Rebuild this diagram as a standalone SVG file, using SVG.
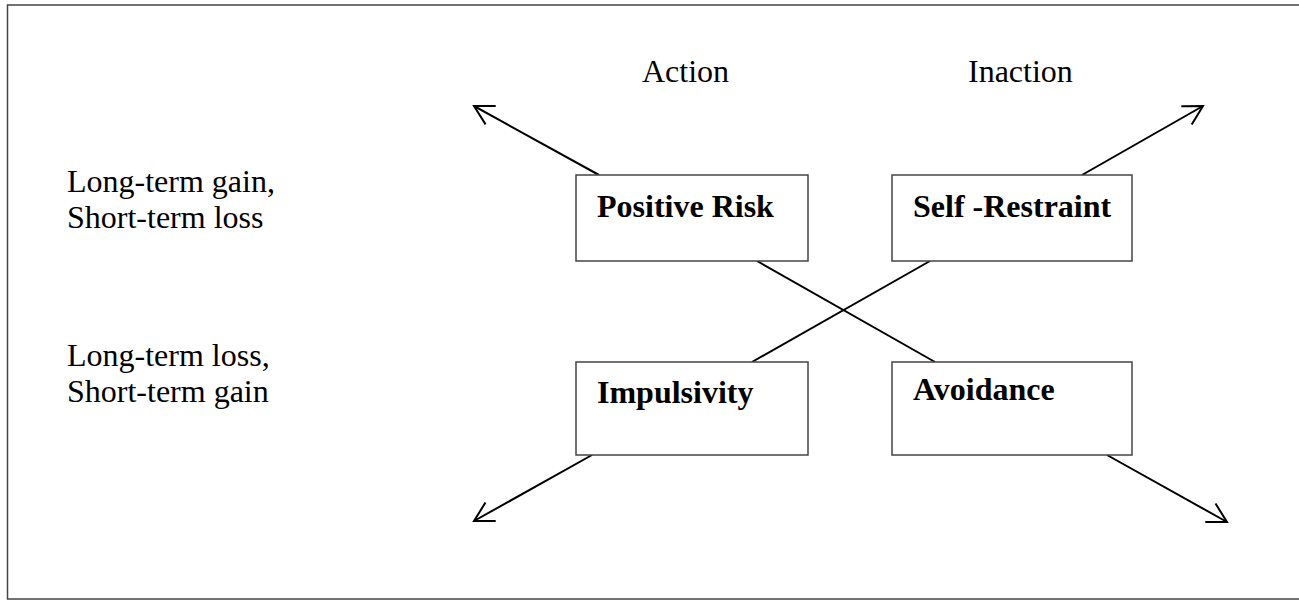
<svg xmlns="http://www.w3.org/2000/svg" width="1299" height="601" viewBox="0 0 1299 601">
<style>
.frame{fill:none;stroke:#444;stroke-width:1.5}
.box{fill:#fff;stroke:#444;stroke-width:1.5}
.lbl{font-family:"Liberation Serif","Times New Roman",serif;font-size:32px;fill:#000}
.b{font-weight:bold}
.con{stroke:#000;stroke-width:2;fill:none}
</style>
<defs>
<marker id="arr" markerUnits="userSpaceOnUse" markerWidth="30" markerHeight="30" refX="0" refY="0" viewBox="-25 -15 30 30" orient="auto" overflow="visible">
<path d="M-19,-10.5 L0,0 L-19,10.5" fill="none" stroke="#000" stroke-width="2"/>
</marker>
</defs>
<rect class="frame" x="7.5" y="5" width="1310" height="594"/>
<text class="lbl" x="642" y="82">Action</text>
<text class="lbl" x="968" y="82">Inaction</text>
<text class="lbl" x="67" y="192">Long-term gain,</text>
<text class="lbl" x="67" y="228">Short-term loss</text>
<text class="lbl" x="67" y="366">Long-term loss,</text>
<text class="lbl" x="67" y="402">Short-term gain</text>
<g id="connectors">
<line class="con" x1="599" y1="175" x2="474" y2="106" marker-end="url(#arr)"/>
<line class="con" x1="1082" y1="175" x2="1203" y2="106" marker-end="url(#arr)"/>
<line class="con" x1="592" y1="455" x2="474" y2="521" marker-end="url(#arr)"/>
<line class="con" x1="1107" y1="455" x2="1227" y2="522" marker-end="url(#arr)"/>
<line class="con" x1="757" y1="261" x2="935" y2="362"/>
<line class="con" x1="930" y1="261" x2="752" y2="362"/>
</g>
<g id="positive-risk">
<rect class="box" x="576" y="175" width="232" height="86"/>
<text class="lbl b" x="597" y="217">Positive Risk</text>
</g>
<g id="self-restraint">
<rect class="box" x="892" y="175" width="240" height="86"/>
<text class="lbl b" x="913" y="217">Self -Restraint</text>
</g>
<g id="impulsivity">
<rect class="box" x="576" y="362" width="232" height="93"/>
<text class="lbl b" x="597" y="403">Impulsivity</text>
</g>
<g id="avoidance">
<rect class="box" x="892" y="362" width="240" height="93"/>
<text class="lbl b" x="913" y="400">Avoidance</text>
</g>
</svg>
